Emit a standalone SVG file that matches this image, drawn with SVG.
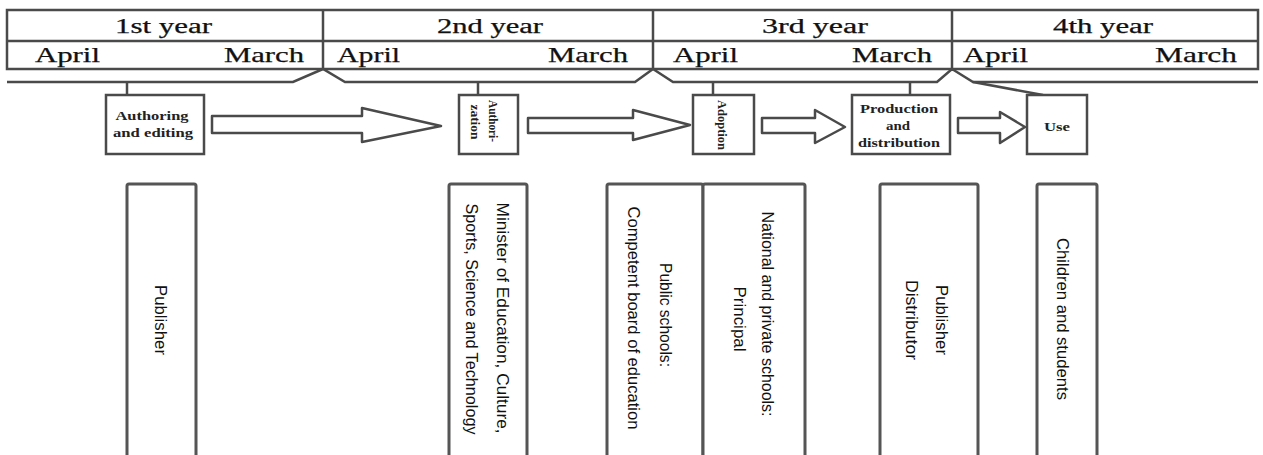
<svg xmlns="http://www.w3.org/2000/svg" width="1263" height="455" viewBox="0 0 1263 455">
<style>
.ln{fill:none;stroke:#4a4a4a;stroke-width:2.5}
.bx{fill:#fff;stroke:#4a4a4a;stroke-width:2.5}
.bb{fill:#fff;stroke:#555;stroke-width:3}
.ar{fill:#fff;stroke:#4a4a4a;stroke-width:2.5;stroke-linejoin:round}
.hy{font-family:"Liberation Serif",serif;font-size:20px;fill:#111;stroke:#111;stroke-width:0.25}
.hm{font-family:"Liberation Serif",serif;font-size:22px;fill:#111;stroke:#111;stroke-width:0.25}
.sm{font-family:"Liberation Serif",serif;font-size:12px;font-weight:bold;fill:#222;text-anchor:middle}
.vt{font-family:"Liberation Sans",sans-serif;font-size:17px;fill:#111;text-anchor:middle;dominant-baseline:central}
</style>
<rect width="1263" height="455" fill="#fff"/>
<g id="header">
<rect class="bx" x="7" y="10" width="1251" height="59"/>
<line class="ln" x1="7" y1="41" x2="1258" y2="41"/>
<line class="ln" x1="323" y1="10" x2="323" y2="69"/>
<line class="ln" x1="653" y1="10" x2="653" y2="69"/>
<line class="ln" x1="952" y1="10" x2="952" y2="69"/>
</g>
<g id="year1">
<text class="hy" x="115" y="33" textLength="97" lengthAdjust="spacingAndGlyphs">1st year</text>
<text class="hm" x="35" y="62" textLength="65" lengthAdjust="spacingAndGlyphs">April</text>
<text class="hm" x="224" y="62" textLength="80" lengthAdjust="spacingAndGlyphs">March</text>
</g>
<g id="year2">
<text class="hy" x="437" y="33" textLength="106" lengthAdjust="spacingAndGlyphs">2nd year</text>
<text class="hm" x="337" y="62" textLength="63" lengthAdjust="spacingAndGlyphs">April</text>
<text class="hm" x="548" y="62" textLength="80" lengthAdjust="spacingAndGlyphs">March</text>
</g>
<g id="year3">
<text class="hy" x="762" y="33" textLength="106" lengthAdjust="spacingAndGlyphs">3rd year</text>
<text class="hm" x="673" y="62" textLength="65" lengthAdjust="spacingAndGlyphs">April</text>
<text class="hm" x="852" y="62" textLength="80" lengthAdjust="spacingAndGlyphs">March</text>
</g>
<g id="year4">
<text class="hy" x="1053" y="33" textLength="100" lengthAdjust="spacingAndGlyphs">4th year</text>
<text class="hm" x="963" y="62" textLength="65" lengthAdjust="spacingAndGlyphs">April</text>
<text class="hm" x="1155" y="62" textLength="82" lengthAdjust="spacingAndGlyphs">March</text>
</g>
<g id="connectors">
<path class="ln" d="M7,82 H293 L323,69 L345,82 H635 L653,69 L673,82 H937 L952,69 L973,82 H1258"/>
<path class="ln" d="M973,82 L1043,95"/>
<line class="ln" x1="127" y1="82" x2="127" y2="95"/>
<line class="ln" x1="478" y1="82" x2="478" y2="95"/>
<line class="ln" x1="713" y1="82" x2="713" y2="95"/>
<line class="ln" x1="910" y1="82" x2="910" y2="95"/>
<path class="ar" d="M212,116 H362 V108 L441,126 L362,142 V133 H212 Z"/>
<path class="ar" d="M528,118 H633 V110 L690,125 L633,140 V133 H528 Z"/>
<path class="ar" d="M762,118 H815 V110 L845,127 L815,143 V133 H762 Z"/>
<path class="ar" d="M958,118 H1000 V112 L1025,127 L1000,143 V133 H958 Z"/>
</g>
<g id="authoring">
<rect class="bx" x="106" y="95" width="98" height="59"/>
<text class="sm" x="152" y="120" textLength="73" lengthAdjust="spacingAndGlyphs">Authoring</text>
<text class="sm" x="153" y="137" textLength="80" lengthAdjust="spacingAndGlyphs">and editing</text>
</g>
<g id="authorization">
<rect class="bx" x="459" y="95" width="59" height="59"/>
<text class="sm" transform="translate(489,121) rotate(90)" textLength="42" lengthAdjust="spacingAndGlyphs">Authori-</text>
<text class="sm" transform="translate(471,122) rotate(90)" textLength="35" lengthAdjust="spacingAndGlyphs">zation</text>
</g>
<g id="adoption">
<rect class="bx" x="693" y="95" width="61" height="59"/>
<text class="sm" transform="translate(718,125) rotate(90)" textLength="50" lengthAdjust="spacingAndGlyphs">Adoption</text>
</g>
<g id="production">
<rect class="bx" x="852" y="95" width="98" height="59"/>
<text class="sm" x="899" y="113" textLength="78" lengthAdjust="spacingAndGlyphs">Production</text>
<text class="sm" x="898" y="130" textLength="24" lengthAdjust="spacingAndGlyphs">and</text>
<text class="sm" x="899" y="147" textLength="82" lengthAdjust="spacingAndGlyphs">distribution</text>
</g>
<g id="use">
<rect class="bx" x="1027" y="95" width="60" height="59"/>
<text class="sm" x="1057" y="131" textLength="26" lengthAdjust="spacingAndGlyphs">Use</text>
</g>
<g id="publisher">
<rect class="bb" x="127" y="184" width="69" height="290" rx="2"/>
<text class="vt" transform="translate(160,320) rotate(90)" textLength="70" lengthAdjust="spacingAndGlyphs">Publisher</text>
</g>
<g id="minister">
<rect class="bb" x="449" y="184" width="78" height="290" rx="2"/>
<text class="vt" transform="translate(502,318) rotate(90)" textLength="231" lengthAdjust="spacingAndGlyphs">Minister of Education, Culture,</text>
<text class="vt" transform="translate(471,319) rotate(90)" textLength="231" lengthAdjust="spacingAndGlyphs">Sports, Science and Technology</text>
</g>
<g id="public">
<rect class="bb" x="607" y="184" width="96" height="290" rx="2"/>
<text class="vt" transform="translate(665,315) rotate(90)" textLength="104" lengthAdjust="spacingAndGlyphs">Public schools:</text>
<text class="vt" transform="translate(633,318) rotate(90)" textLength="223" lengthAdjust="spacingAndGlyphs">Competent board of education</text>
</g>
<g id="national">
<rect class="bb" x="703" y="184" width="102" height="290" rx="2"/>
<text class="vt" transform="translate(767,314) rotate(90)" textLength="205" lengthAdjust="spacingAndGlyphs">National and private schools:</text>
<text class="vt" transform="translate(739,319) rotate(90)" textLength="65" lengthAdjust="spacingAndGlyphs">Principal</text>
</g>
<g id="distributor">
<rect class="bb" x="880" y="184" width="98" height="290" rx="2"/>
<text class="vt" transform="translate(941,320) rotate(90)" textLength="70" lengthAdjust="spacingAndGlyphs">Publisher</text>
<text class="vt" transform="translate(911,320) rotate(90)" textLength="80" lengthAdjust="spacingAndGlyphs">Distributor</text>
</g>
<g id="children">
<rect class="bb" x="1037" y="184" width="60" height="290" rx="2"/>
<text class="vt" transform="translate(1062,319) rotate(90)" textLength="162" lengthAdjust="spacingAndGlyphs">Children and students</text>
</g>
</svg>
